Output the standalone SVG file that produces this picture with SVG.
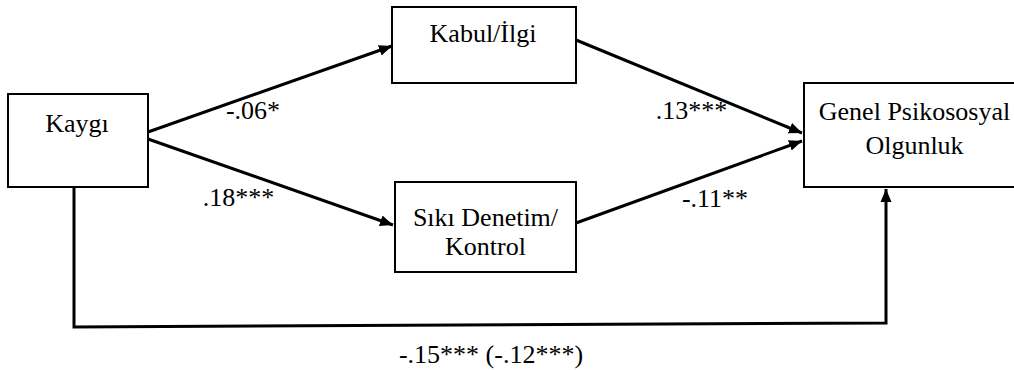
<svg xmlns="http://www.w3.org/2000/svg" width="1014" height="370" viewBox="0 0 1014 370">
<style>
.box{fill:#fff;stroke:#000;stroke-width:2}
.c{fill:none;stroke:#000;stroke-width:3}
</style>
<defs>
<marker id="ah" markerUnits="userSpaceOnUse" markerWidth="14" markerHeight="12" refX="13" refY="6" orient="auto">
<path d="M0,0.5 L13,6 L0,11.5 z" fill="#000"/>
</marker>
</defs>
<rect width="1014" height="370" fill="#fff"/>
<g id="connectors">
<line class="c" x1="148" y1="132" x2="392" y2="46" marker-end="url(#ah)"/>
<line class="c" x1="148" y1="139" x2="393" y2="225" marker-end="url(#ah)"/>
<line class="c" x1="576" y1="40" x2="802" y2="133" marker-end="url(#ah)"/>
<line class="c" x1="576" y1="223" x2="802" y2="141" marker-end="url(#ah)"/>
<polyline class="c" points="74,187 74,327 886,323 886,189" marker-end="url(#ah)"/>
<text font-family="Liberation Serif" font-size="26" text-anchor="middle" x="253" y="119">-.06*</text>
<text font-family="Liberation Serif" font-size="26" text-anchor="middle" x="238.5" y="206">.18***</text>
<text font-family="Liberation Serif" font-size="26" text-anchor="middle" x="691.5" y="119">.13***</text>
<text font-family="Liberation Serif" font-size="26" text-anchor="middle" x="715" y="207">-.11**</text>
<text font-family="Liberation Serif" font-size="26" text-anchor="middle" x="491" y="363">-.15*** (-.12***)</text>
</g>
<g id="kaygi">
<rect class="box" x="8" y="94" width="140" height="93"/>
<text font-family="Liberation Serif" font-size="26" text-anchor="middle" x="77" y="132">Kaygı</text>
</g>
<g id="kabul">
<rect class="box" x="392" y="7" width="184" height="76"/>
<text font-family="Liberation Serif" font-size="26" text-anchor="middle" x="483" y="42">Kabul/İlgi</text>
</g>
<g id="siki">
<rect class="box" x="395" y="182" width="181" height="90"/>
<text font-family="Liberation Serif" font-size="26" text-anchor="middle" x="485.5" y="226">Sıkı Denetim/</text>
<text font-family="Liberation Serif" font-size="26" text-anchor="middle" x="485.5" y="255">Kontrol</text>
</g>
<g id="genel">
<rect class="box" x="804" y="83" width="222" height="104"/>
<text font-family="Liberation Serif" font-size="26" text-anchor="middle" x="914.5" y="120">Genel Psikososyal</text>
<text font-family="Liberation Serif" font-size="26" text-anchor="middle" x="914.5" y="154">Olgunluk</text>
</g>
</svg>
